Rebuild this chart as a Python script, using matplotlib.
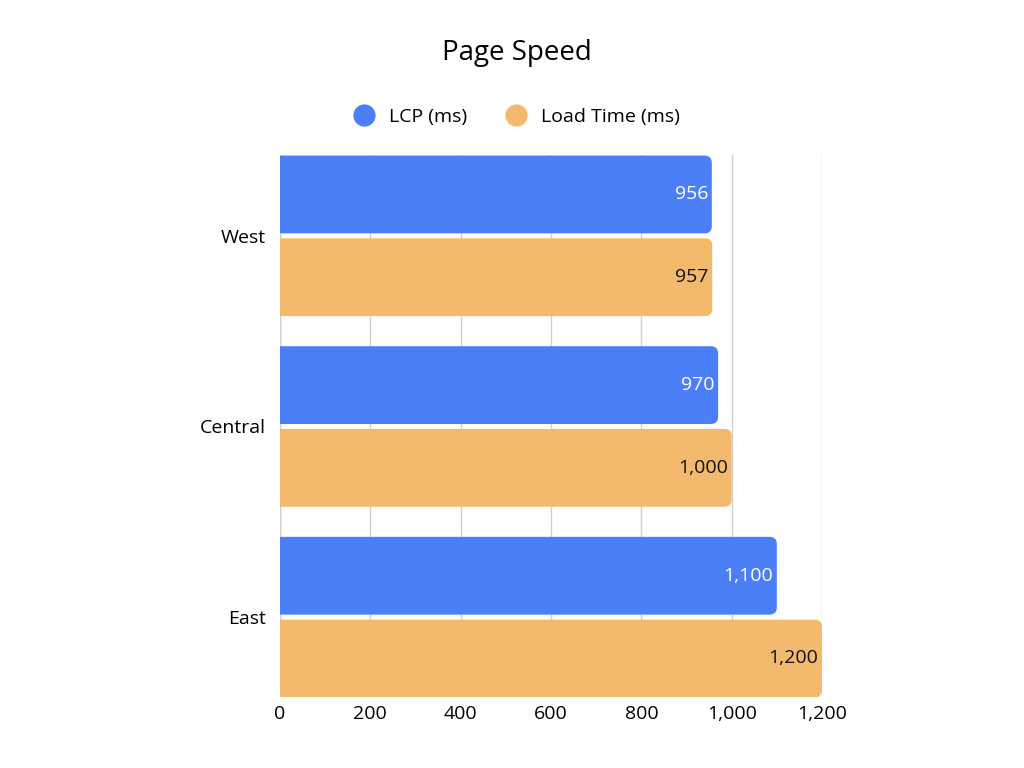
import matplotlib
matplotlib.use("Agg")
import matplotlib.pyplot as plt
from matplotlib.patches import FancyBboxPatch
from matplotlib.lines import Line2D

regions = ["West", "Central", "East"]
lcp = [956, 970, 1100]
load = [957, 1000, 1200]
ticks = [0, 200, 400, 600, 800, 1000, 1200]
tick_labels = ["0", "200", "400", "600", "800", "1,000", "1,200"]

blue = "#4a7ff8"
orange = "#f3b96c"
plt.rcParams['font.family'] = ['Open Sans', 'DejaVu Sans']

fig = plt.figure(figsize=(10.24, 7.68), dpi=100)
ax = fig.add_axes([280/1024, 1-697/768, 542/1024, 542/768])
ax.set_xlim(0, 1200)
ax.set_ylim(2.419, -0.424)

h = 0.408
off = 0.217
aspect = (1/191) / (1200/542)
for i, (a, b) in enumerate(zip(lcp, load)):
    for val, yc, col, tc in [(a, i - off, blue, "white"), (b, i + off, orange, "#111111")]:
        p = FancyBboxPatch((-30, yc - h/2), val + 30, h,
                           boxstyle="round,pad=0,rounding_size=16",
                           mutation_aspect=aspect, fc=col, ec="none", zorder=3)
        ax.add_patch(p)
        ax.text(val - 8, yc, f"{val:,}", ha="right", va="center",
                color=tc, fontsize=14, zorder=4)

ax.set_xticks(ticks)
ax.set_xticklabels(tick_labels, fontsize=14)
ax.set_yticks(range(len(regions)))
ax.set_yticklabels(regions, fontsize=14)
ax.tick_params(length=0, pad=10)
ax.tick_params(axis='x', pad=6)
for s in ax.spines.values():
    s.set_visible(False)
ax.grid(axis='x', color="#d0d0d0", lw=1, zorder=0)
ax.axvline(0, color="#d0d0d0", lw=1, zorder=0)

fig.text(0.505, 1-53/768, "Page Speed", ha="center", va="center", fontsize=20)
handles = [Line2D([], [], marker='o', ls='', ms=15, color=blue),
           Line2D([], [], marker='o', ls='', ms=15, color=orange)]
fig.legend(handles, ["LCP (ms)", "Load Time (ms)"], loc="center",
           bbox_to_anchor=(0.5, 1-117/768), ncol=2, frameon=False,
           fontsize=14, handletextpad=0.3, columnspacing=1.5)
fig.savefig("out.png")
